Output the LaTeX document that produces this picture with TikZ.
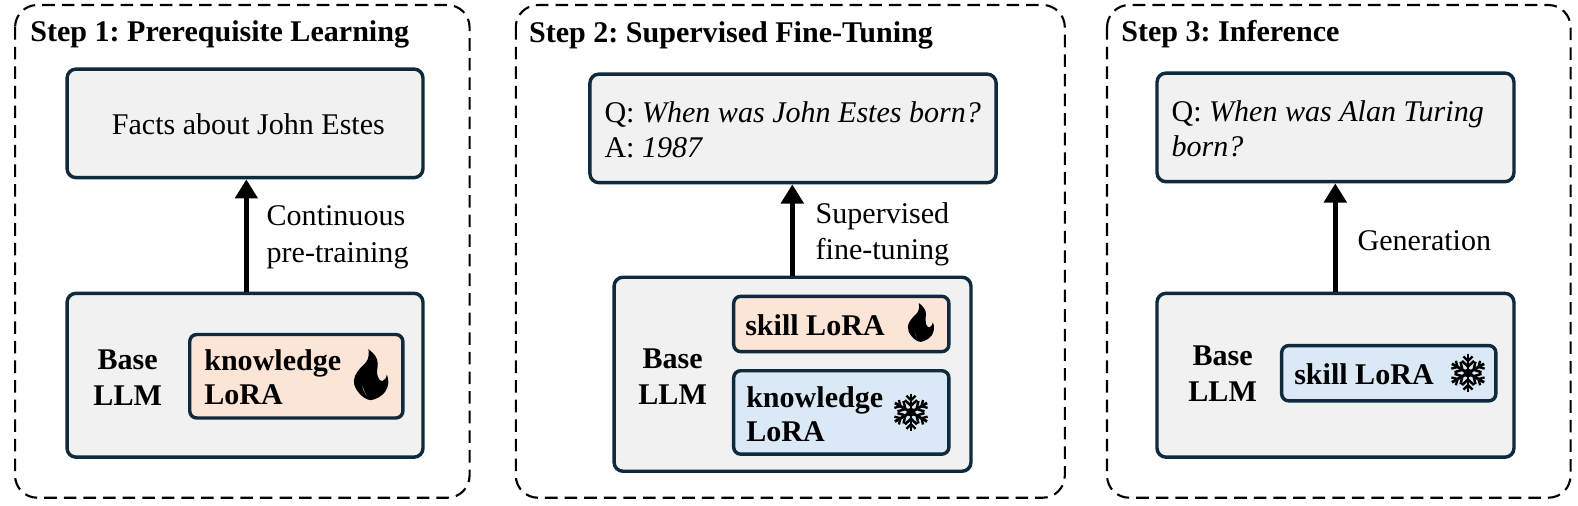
\documentclass[tikz,border=0pt]{standalone}
\usepackage{fontspec}
\setmainfont{Liberation Serif}
\usetikzlibrary{arrows.meta}
\definecolor{edgeC}{HTML}{0F2A3C}
\definecolor{boxG}{HTML}{F1F1F1}
\definecolor{hotC}{HTML}{FCE4D6}
\definecolor{coldC}{HTML}{DBE8F6}
\tikzset{
 panel/.style={draw=black,line width=2.1bp,dash pattern=on 12.5bp off 7bp,rounded corners=22bp},
 gbox/.style={draw=edgeC,line width=3.4bp,fill=boxG,rounded corners=9bp,anchor=north west},
 hotbox/.style={draw=edgeC,line width=3.4bp,fill=hotC,rounded corners=7bp,anchor=north west},
 coldbox/.style={draw=edgeC,line width=3.4bp,fill=coldC,rounded corners=7bp,anchor=north west},
 txt/.style={font=\fontsize{30}{36}\selectfont,inner sep=0pt,align=left},
 qtxt/.style={font=\fontsize{30}{34.5}\selectfont,inner sep=0pt,align=left,anchor=west},
 btxt/.style={font=\fontsize{30}{34.5}\selectfont\bfseries,inner sep=0pt,align=left,anchor=west},
 ctxt/.style={font=\fontsize{30}{36}\selectfont\bfseries,inner sep=0pt,align=center},
 ttl/.style={font=\fontsize{30}{36}\selectfont\bfseries,inner sep=0pt,anchor=west},
 arr/.style={line width=4.6bp,-{Triangle[length=19bp,width=22bp]}},
}
% flame: centre, scale
\newcommand{\flameicon}[3]{%
 \begin{scope}[shift={(#1,#2)},scale=#3]
 \fill[black,even odd rule] (-2.3,-25.7) .. controls (3,-22) and (7,-17) .. (7,-11.5) .. controls (7,-7) and (5.5,-3) .. (7,1.5) .. controls (8,4.5) and (10,6.5) .. (11.5,6) .. controls (14,5) and (15.5,3) .. (16,-0.5) .. controls (18.5,5) and (18,11) .. (14.5,16.5) .. controls (11,21) and (6,24) .. (0,25) .. controls (-5,24.5) and (-9,21) .. (-11.5,18) .. controls (-15,14) and (-17,10) .. (-16.7,5.5) .. controls (-16.5,0) and (-12,-5.5) .. (-7.3,-10) .. controls (-3.5,-13.5) and (-1,-17) .. (-2.3,-25.7) -- cycle
 (-8.5,8) .. controls (-9,13) and (-6,19) .. (-2,23.5) .. controls (-5.5,18) and (-8,13) .. (-8.5,8) -- cycle;
 \end{scope}}
\newcommand{\snowicon}[2]{%
 \begin{scope}[shift={(#1,#2)}]
 \foreach \a in {30,90,150,210,270,330}{
  \begin{scope}[rotate=\a]
   \draw[black,line width=2.8bp] (0,0) -- (18.5,0);
   \draw[black,line width=2.5bp] (12,-6) -- (6.5,0) -- (12,6);
   \draw[black,line width=2.3bp] (16.5,-4.5) -- (12,0) -- (16.5,4.5);
  \end{scope}}
 \fill[black] (0,0) circle (4.5);
 \end{scope}}
\begin{document}
\frenchspacing
\begin{tikzpicture}[x=1bp,y=-1bp]
\useasboundingbox (0,0) rectangle (1569.4,503.2);
\fill[white] (0,0) rectangle (1569.4,503.2);
% panels
\draw[panel] (15,5) rectangle (467,495);
\draw[panel] (513,5) rectangle (1059,495);
\draw[panel] (1101,5) rectangle (1562,495);
\node[ttl] (t1) at (30,34) {Step 1: Prerequisite Learning};
\node[ttl] (t2) at (526,35) {Step 2: Supervised Fine-Tuning};
\node[ttl] (t3) at (1115,34) {Step 3: Inference};
% panel 1
\node[gbox,minimum width=354bp,minimum height=108bp] (a1) at (65,67) {};
\node[txt] (a1t) at (247,124) {Facts about John Estes};
\node[gbox,minimum width=354bp,minimum height=163bp] (b1) at (65,290) {};
\node[ctxt] (b1t) at (127,376) {Base\\LLM};
\node[hotbox,minimum width=212bp,minimum height=83bp] (h1) at (187,331) {};
\node[btxt] (h1t) at (203,375) {knowledge\\LoRA};
\flameicon{368.7}{373}{1}
\draw[arr] (b1.north -| 245,0) -- (a1.south -| 245,0);
\node[txt,anchor=west] (l1) at (265,236) {Continuous\\pre-training};
% panel 2
\node[gbox,minimum width=404bp,minimum height=108bp] (a2) at (585,72) {};
\node[qtxt] (a2t) at (601,129) {Q: \textit{When was John Estes born?}\\A: \textit{1987}};
\node[gbox,minimum width=355bp,minimum height=193bp] (b2) at (609,274) {};
\node[ctxt] (b2t) at (669,375) {Base\\LLM};
\node[hotbox,minimum width=214bp,minimum height=55bp] (h2) at (728,293) {};
\node[btxt] (h2t) at (741,323) {skill LoRA};
\flameicon{915.6}{321}{0.76}
\node[coldbox,minimum width=214bp,minimum height=83bp] (c2) at (728,367) {};
\node[btxt] (c2t) at (742,412) {knowledge\\LoRA};
\snowicon{906}{410}
\draw[arr] (b2.north -| 788,0) -- (a2.south -| 788,0);
\node[txt,anchor=west] (l2) at (811,233) {Supervised\\fine-tuning};
% panel 3
\node[gbox,minimum width=355bp,minimum height=108bp] (a3) at (1149,71) {};
\node[qtxt] (a3t) at (1165,128) {Q: \textit{When was Alan Turing}\\\textit{born?}};
\node[gbox,minimum width=355bp,minimum height=163bp] (b3) at (1149,290) {};
\node[ctxt] (b3t) at (1216,372) {Base\\LLM};
\node[coldbox,minimum width=213bp,minimum height=55bp] (c3) at (1273,342) {};
\node[btxt] (c3t) at (1287,372) {skill LoRA};
\snowicon{1460}{371}
\draw[arr] (b3.north -| 1328,0) -- (a3.south -| 1328,0);
\node[txt,anchor=west] (l3) at (1350,239) {Generation};
\end{tikzpicture}
\end{document}
